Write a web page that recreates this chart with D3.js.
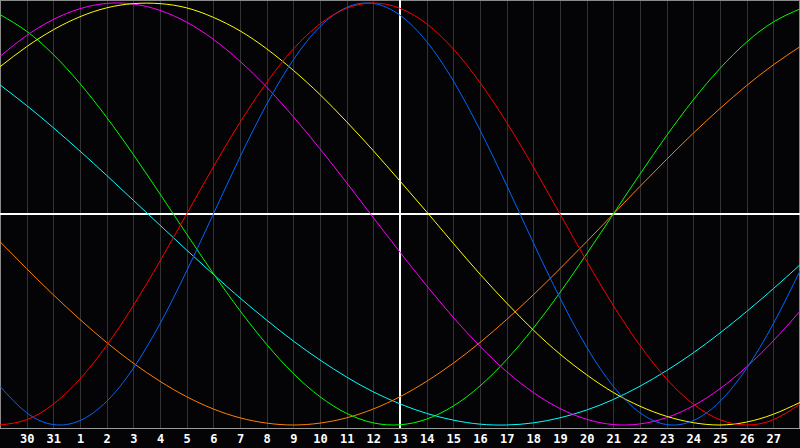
<!DOCTYPE html>
<html>
<head>
<meta charset="utf-8">
<script src="https://cdn.jsdelivr.net/npm/d3@7"></script>
<style>
  html, body { margin: 0; padding: 0; background: #040406; overflow: hidden; }
  svg { display: block; }
</style>
</head>
<body>
<div id="chart"></div>
<script>
var w = 800; // Define width
var h = 448; // Define height
var plotBottom = 428; // y of the bottom axis line

// Day labels, one per grid position (first and last are not labelled)
var days = [29, 30, 31, 1, 2, 3, 4, 5, 6, 7, 8, 9, 10, 11, 12, 13, 14, 15, 16, 17, 18, 19, 20, 21, 22, 23, 24, 25, 26, 27, 28];

// Cycle values in percent, read at every day line
var physical = [-81.7, -94.2, -99.8, -97.9, -88.8, -73.1, -52.0, -27.0, 0, 27.0, 52.0, 73.1, 88.8, 97.9, 99.8, 94.2, 81.7, 63.1, 39.8, 13.6, -13.6, -39.8, -63.1, -81.7, -94.2, -99.8, -97.9, -88.8, -73.1, -52.0, -27.0];
var emotional = [-100, -97.5, -90.1, -78.2, -62.3, -43.4, -22.3, 0, 22.3, 43.4, 62.3, 78.2, 90.1, 97.5, 100, 97.5, 90.1, 78.2, 62.3, 43.4, 22.3, 0, -22.3, -43.4, -62.3, -78.2, -90.1, -97.5, -100, -97.5, -90.1];
var intellectual = [94.5, 86.6, 75.6, 61.8, 45.8, 28.2, 9.5, -9.5, -28.2, -45.8, -61.8, -75.6, -86.6, -94.5, -99.0, -99.9, -97.2, -91.0, -81.5, -69.0, -54.1, -37.2, -18.9, 0, 18.9, 37.2, 54.1, 69.0, 81.5, 91.0, 97.2];
var intuitive = [74.7, 84.6, 92.2, 97.3, 99.8, 99.5, 96.5, 90.9, 82.8, 72.4, 60.1, 46.1, 30.9, 14.8, -1.7, -18.1, -34.0, -49.0, -62.7, -74.7, -84.6, -92.2, -97.3, -99.8, -99.5, -96.5, -90.9, -82.8, -72.4, -60.1, -46.1];
var aesthetic = [69.8, 79.3, 87.3, 93.5, 97.7, 99.7, 99.7, 97.7, 93.2, 86.8, 78.3, 68.1, 56.6, 43.7, 30.0, 15.6, 1.0, -13.9, -28.5, -42.2, -55.0, -66.4, -76.2, -84.6, -91.1, -95.9, -98.9, -100, -98.6, -94.9, -89.3];
var awareness = [-13.1, -25.9, -38.3, -50.0, -60.9, -70.7, -79.3, -86.6, -92.4, -96.6, -99.1, -100, -99.1, -96.6, -92.4, -86.6, -79.3, -70.7, -60.9, -50.0, -38.3, -25.9, -13.1, 0, 13.1, 25.9, 38.3, 50.0, 60.9, 70.7, 79.3];
var spiritual = [61.2, 51.4, 40.9, 29.8, 18.3, 6.5, -5.3, -17.1, -28.6, -39.8, -50.3, -60.2, -69.2, -77.3, -84.3, -90.0, -94.5, -97.7, -99.6, -100, -99.0, -96.6, -92.9, -87.9, -81.6, -74.2, -65.8, -56.4, -46.2, -35.4, -24.1];

var seriesNames = ["spiritual", "awareness", "intellectual", "intuitive", "aesthetic", "physical", "emotional"];
var seriesValues = [spiritual, awareness, intellectual, intuitive, aesthetic, physical, emotional];
var seriesColors = ["#00ffff", "#ff8000", "#00ff00", "#ff00ff", "#ffff00", "#0066ff", "#ff0000"];

var xScale = d3.scaleLinear()
    .domain([0, days.length - 1])
    .range([0, w]);

var yScale = d3.scaleLinear()
    .domain([-100, 100])
    .range([425, 3]);

var svg = d3.select("#chart")
    .append("svg")
    .attr("width", w)
    .attr("height", h);

svg.append("rect")
    .attr("width", w)
    .attr("height", h)
    .attr("fill", "#040406");

// Day grid lines
var gridTicks = d3.range(1, days.length - 1);
svg.append("g")
    .attr("transform", "translate(0," + plotBottom + ")")
    .call(d3.axisBottom(xScale).tickValues(gridTicks).tickSize(-plotBottom).tickFormat(""))
    .call(function(g) {
        g.select(".domain").remove();
        g.selectAll(".tick line").attr("stroke", "#333333").attr("shape-rendering", "crispEdges");
    });

// Frame
svg.append("path")
    .attr("d", "M0.5," + plotBottom + "V0.5H" + (w - 0.5) + "V" + plotBottom)
    .attr("fill", "none")
    .attr("stroke", "#8a8a8a")
    .attr("shape-rendering", "crispEdges");

svg.append("line")
    .attr("x1", 0).attr("x2", w)
    .attr("y1", plotBottom + 0.5).attr("y2", plotBottom + 0.5)
    .attr("stroke", "#9a9a9a")
    .attr("stroke-width", 1.5)
    .attr("shape-rendering", "crispEdges");

// Centre cross
svg.append("line")
    .attr("x1", 0).attr("x2", w)
    .attr("y1", yScale(0)).attr("y2", yScale(0))
    .attr("stroke", "#ffffff")
    .attr("stroke-width", 2)
    .attr("shape-rendering", "crispEdges");

svg.append("line")
    .attr("x1", xScale(15)).attr("x2", xScale(15))
    .attr("y1", 0).attr("y2", plotBottom)
    .attr("stroke", "#ffffff")
    .attr("stroke-width", 2)
    .attr("shape-rendering", "crispEdges");

// Cycle curves
var line = d3.line()
    .x(function(d, i) { return xScale(i); })
    .y(function(d) { return yScale(d); })
    .curve(d3.curveNatural);

svg.selectAll("path.cycle")
    .data(seriesValues)
    .enter()
    .append("path")
    .attr("class", "cycle")
    .attr("d", line)
    .attr("fill", "none")
    .attr("stroke", function(d, i) { return seriesColors[i]; })
    .attr("stroke-width", 1);

// Day labels
svg.append("g")
    .attr("transform", "translate(0," + plotBottom + ")")
    .call(d3.axisBottom(xScale).tickValues(gridTicks).tickSize(0).tickPadding(6)
        .tickFormat(function(i) { return days[i]; }))
    .call(function(g) {
        g.select(".domain").remove();
        g.selectAll("text")
            .attr("fill", "#ffffff")
            .attr("font-family", "'DejaVu Sans Mono', monospace")
            .attr("font-weight", "bold")
            .attr("font-size", "12px");
    });
</script>
</body>
</html>
